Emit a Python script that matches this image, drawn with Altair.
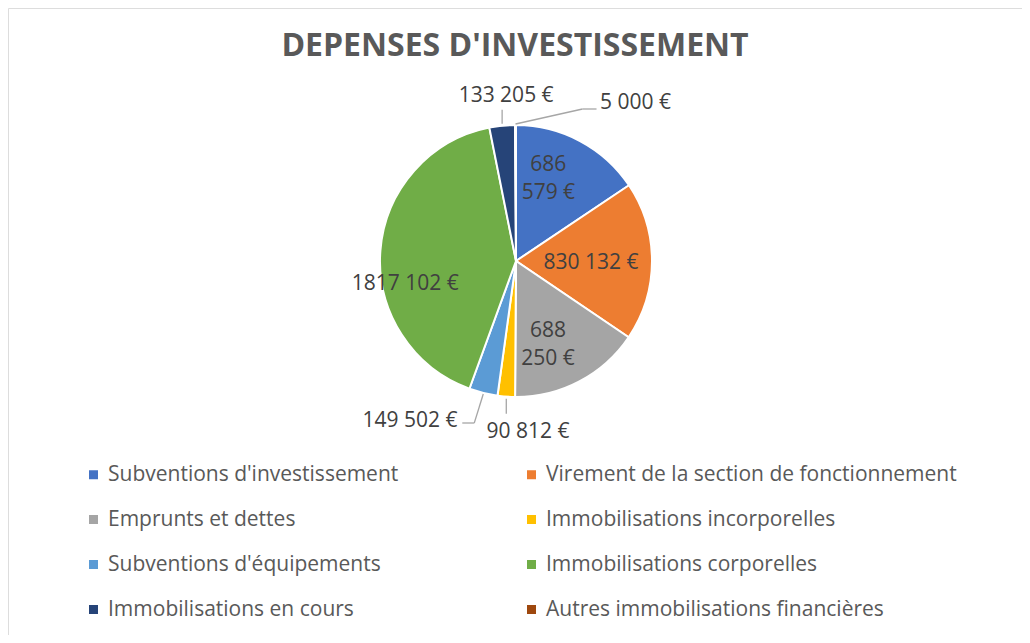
import altair as alt
import pandas as pd

categories = [
    "Subventions d'investissement",
    "Virement de la section de fonctionnement",
    "Emprunts et dettes",
    "Immobilisations incorporelles",
    "Subventions d'équipements",
    "Immobilisations corporelles",
    "Immobilisations en cours",
    "Autres immobilisations financières",
]
values = [686579, 830132, 688250, 90812, 149502, 1817102, 133205, 5000]
labels = ["686\n579 €", "830 132 €", "688\n250 €", "90 812 €", "149 502 €",
          "1817 102 €", "133 205 €", "5 000 €"]
colors = ["#4472C4", "#ED7D31", "#A5A5A5", "#FFC000", "#5B9BD5", "#70AD47",
          "#264478", "#9E480E"]

df = pd.DataFrame({"cat": categories, "value": values, "label": labels,
                   "idx": list(range(len(categories)))})

W, H = 1014, 627
CX, CY, R = 508, 253, 136
FONT = "Open Sans"
FS = 21

base = (
    alt.Chart(df)
    .transform_joinaggregate(total="sum(value)")
    .transform_window(cum="sum(value)", sort=[alt.SortField("idx")], frame=[None, 0])
    .transform_calculate(mid="(datum.cum - datum.value/2)/datum.total*2*PI")
)

pie = alt.Chart(df).mark_arc(outerRadius=R, stroke="white", strokeWidth=2).encode(
    theta=alt.Theta("value:Q", stack=True),
    order=alt.Order("idx:Q"),
    color=alt.Color(
        "cat:N",
        scale=alt.Scale(domain=categories, range=colors),
        sort=categories,
        legend=alt.Legend(
            title=None, orient="none", legendX=75, legendY=456, columns=2,
            direction="horizontal",
            symbolType="square", symbolSize=81, symbolStrokeWidth=0,
            labelFont=FONT, labelFontSize=FS, labelColor="#595959",
            labelOffset=4, labelLimit=600, rowPadding=23, columnPadding=122,
            padding=0, gridAlign="each",
        ),
    ),
    x=alt.value(CX),
    y=alt.value(CY),
)


def label_layer(cat, rr, dx, dy, align="center"):
    return (
        base.transform_filter(alt.datum.cat == cat)
        .transform_calculate(
            lx=f"{CX} + {rr}*sin(datum.mid) + ({dx})",
            ly=f"{CY} - {rr}*cos(datum.mid) + ({dy})",
            txt="split(datum.label, '\\n')",
        )
        .mark_text(align=align, baseline="middle", font=FONT, fontSize=FS,
                   color="#404040", lineHeight=28)
        .encode(x=alt.X("lx:Q", scale=None), y=alt.Y("ly:Q", scale=None),
                text="txt:N")
    )


def leader(cat, pts):
    segs = []
    for (ax, ay), (bx, by) in zip(pts[:-1], pts[1:]):
        segs.append(
            base.transform_filter(alt.datum.cat == cat)
            .transform_calculate(
                ex=f"{CX} + {R}*sin(datum.mid)",
                ey=f"{CY} - {R}*cos(datum.mid)",
            )
            .transform_calculate(
                x1=f"datum.ex + ({ax})", y1=f"datum.ey + ({ay})",
                x2=f"datum.ex + ({bx})", y2=f"datum.ey + ({by})",
            )
            .mark_rule(color="#A6A6A6", strokeWidth=1.3)
            .encode(x=alt.X("x1:Q", scale=None), y=alt.Y("y1:Q", scale=None),
                    x2="x2:Q", y2="y2:Q")
        )
    return segs


layers = [pie]
layers += leader(categories[7], [(0, -1), (67, -16), (81, -16)])
layers += leader(categories[6], [(0, -2), (0, -16)])
layers += leader(categories[4], [(0, 1), (-9, 30), (-21, 30)])
layers += leader(categories[3], [(0, 2), (0, 17)])
layers += [
    label_layer(categories[0], 90, -10, -17),
    label_layer(categories[1], 75, 0, 2),
    label_layer(categories[2], 86, -8, -6),
    label_layer(categories[5], 100, -11, 31),
    label_layer(categories[6], R, 4, -30),
    label_layer(categories[7], R, 84.5, -22, "left"),
    label_layer(categories[4], R, -25.7, 28, "right"),
    label_layer(categories[3], R, 21.7, 35.4),
]

chart = (
    alt.layer(*layers)
    .properties(
        width=W, height=H, padding=0,
        autosize=alt.AutoSizeParams(type="none"),
        title=alt.TitleParams(
            "DEPENSES D'INVESTISSEMENT", font=FONT, fontSize=32,
            fontWeight="bold", color="#595959", anchor="middle",
            baseline="middle", offset=0, dy=70,
        ),
    )
    .configure_view(stroke="#D9D9D9", strokeWidth=1)
    .configure(background="white")
)

chart.save("out.html", embed_options={"renderer": "svg", "actions": False})
